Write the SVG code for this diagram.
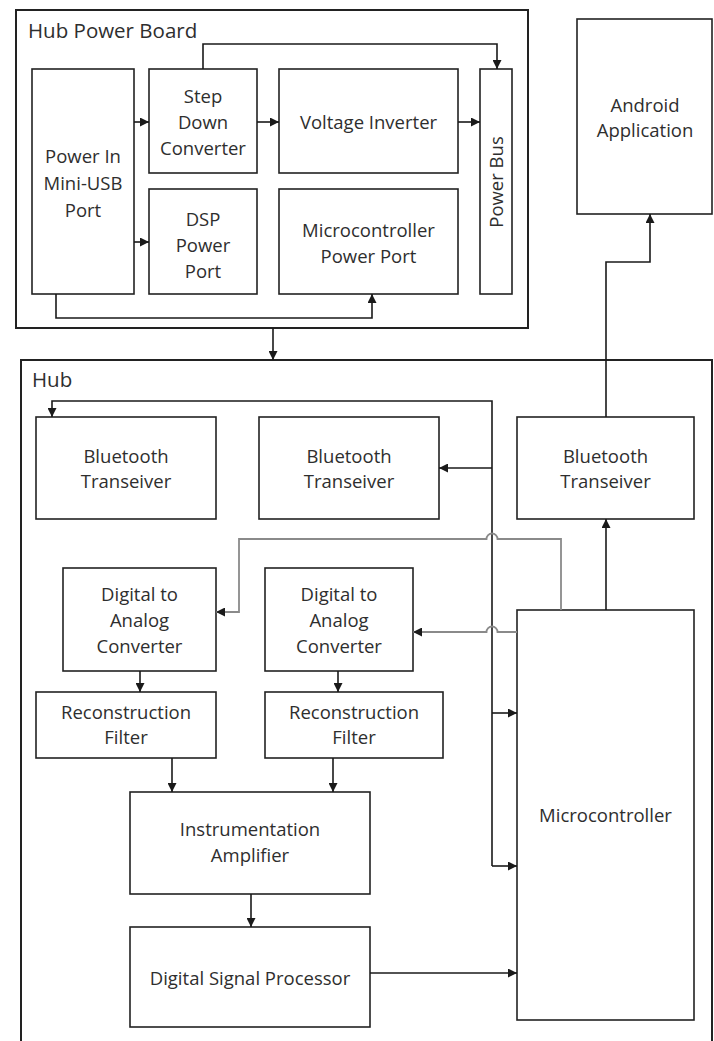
<svg xmlns="http://www.w3.org/2000/svg" width="714" height="1041" viewBox="0 0 714 1041">
<style>
.box{fill:#fff;stroke:#222;stroke-width:1.6}
.frame{fill:none;stroke:#222;stroke-width:2}
.t{font-family:"Open Sans","Liberation Sans",sans-serif;font-size:18.5px;fill:#2e2e2e;text-anchor:middle}
.lbl{font-family:"Open Sans","Liberation Sans",sans-serif;font-size:20.5px;fill:#2e2e2e}
.c{fill:none;stroke:#1a1a1a;stroke-width:1.6}
.g{fill:none;stroke:#8a8a8a;stroke-width:1.8}
</style>
<defs>
<marker id="ah" viewBox="0 0 10 10" refX="10" refY="5" markerWidth="9" markerHeight="9" markerUnits="userSpaceOnUse" orient="auto">
<path d="M0,0 L10,5 L0,10 z" fill="#1a1a1a"/>
</marker>
</defs>
<rect width="714" height="1041" fill="#fff"/>

<g id="hub-power-board">
<rect class="frame" x="16" y="10" width="512" height="318"/>
<text class="lbl" x="28" y="38">Hub Power Board</text>
</g>
<g id="hub">
<path class="frame" d="M21,1041 V360 H712 V1041"/>
<text class="lbl" x="32" y="387">Hub</text>
</g>

<g id="power-in">
<rect class="box" x="32" y="69" width="102" height="225"/>
<text class="t" x="83" y="163">Power In</text>
<text class="t" x="83" y="190">Mini-USB</text>
<text class="t" x="83" y="217">Port</text>
</g>
<g id="step-down">
<rect class="box" x="149" y="69" width="108" height="104"/>
<text class="t" x="203" y="103">Step</text>
<text class="t" x="203" y="129">Down</text>
<text class="t" x="203" y="155">Converter</text>
</g>
<g id="dsp-power">
<rect class="box" x="149" y="189" width="108" height="105"/>
<text class="t" x="203" y="226">DSP</text>
<text class="t" x="203" y="252">Power</text>
<text class="t" x="203" y="278">Port</text>
</g>
<g id="voltage-inverter">
<rect class="box" x="279" y="69" width="179" height="104"/>
<text class="t" x="368.5" y="129">Voltage Inverter</text>
</g>
<g id="mcu-power">
<rect class="box" x="279" y="189" width="179" height="105"/>
<text class="t" x="368.5" y="237">Microcontroller</text>
<text class="t" x="368.5" y="263">Power Port</text>
</g>
<g id="power-bus">
<rect class="box" x="480" y="69" width="32" height="225"/>
<text class="t" x="0" y="0" transform="translate(503,182) rotate(-90)">Power Bus</text>
</g>
<g id="android">
<rect class="box" x="577" y="19" width="135" height="195"/>
<text class="t" x="645" y="112">Android</text>
<text class="t" x="645" y="137">Application</text>
</g>

<g id="bt1">
<rect class="box" x="36" y="417" width="180" height="102"/>
<text class="t" x="126" y="463">Bluetooth</text>
<text class="t" x="126" y="488">Transeiver</text>
</g>
<g id="bt2">
<rect class="box" x="259" y="417" width="180" height="102"/>
<text class="t" x="349" y="463">Bluetooth</text>
<text class="t" x="349" y="488">Transeiver</text>
</g>
<g id="bt3">
<rect class="box" x="517" y="417" width="177" height="102"/>
<text class="t" x="605.5" y="463">Bluetooth</text>
<text class="t" x="605.5" y="488">Transeiver</text>
</g>
<g id="dac1">
<rect class="box" x="63" y="568" width="153" height="103"/>
<text class="t" x="139.5" y="601">Digital to</text>
<text class="t" x="139.5" y="627">Analog</text>
<text class="t" x="139.5" y="653">Converter</text>
</g>
<g id="dac2">
<rect class="box" x="265" y="568" width="148" height="103"/>
<text class="t" x="339" y="601">Digital to</text>
<text class="t" x="339" y="627">Analog</text>
<text class="t" x="339" y="653">Converter</text>
</g>
<g id="rf1">
<rect class="box" x="36" y="692" width="180" height="66"/>
<text class="t" x="126" y="719">Reconstruction</text>
<text class="t" x="126" y="744">Filter</text>
</g>
<g id="rf2">
<rect class="box" x="265" y="692" width="178" height="66"/>
<text class="t" x="354" y="719">Reconstruction</text>
<text class="t" x="354" y="744">Filter</text>
</g>
<g id="inst-amp">
<rect class="box" x="130" y="792" width="240" height="102"/>
<text class="t" x="250" y="836">Instrumentation</text>
<text class="t" x="250" y="862">Amplifier</text>
</g>
<g id="dsp">
<rect class="box" x="130" y="927" width="240" height="100"/>
<text class="t" x="250" y="985">Digital Signal Processor</text>
</g>
<g id="microcontroller">
<rect class="box" x="517" y="610" width="177" height="410"/>
<text class="t" x="605.5" y="822">Microcontroller</text>
</g>

<g id="connectors">
<path class="c" d="M134,122 H149" marker-end="url(#ah)"/>
<path class="c" d="M134,242 H149" marker-end="url(#ah)"/>
<path class="c" d="M257,122 H279" marker-end="url(#ah)"/>
<path class="c" d="M458,122 H480" marker-end="url(#ah)"/>
<path class="c" d="M203,69 V44 H497 V69" marker-end="url(#ah)"/>
<path class="c" d="M56,294 V318 H372 V294" marker-end="url(#ah)"/>
<path class="c" d="M273,328 V360" marker-end="url(#ah)"/>
<path class="c" d="M606,417 V262 H650 V214" marker-end="url(#ah)"/>
<path class="c" d="M492,866 V401 H52 V417" marker-end="url(#ah)"/>
<path class="c" d="M492,468 H439" marker-end="url(#ah)"/>
<path class="c" d="M492,713 H517" marker-end="url(#ah)"/>
<path class="c" d="M492,866 H517" marker-end="url(#ah)"/>
<path class="g" d="M561,610 V539 H497.5 A5.5,5.5 0 0 0 486.5,539 H239 V612 H216" marker-end="url(#ah)"/>
<path class="g" d="M517,632 H497.5 A5.5,5.5 0 0 0 486.5,632 H413" marker-end="url(#ah)"/>
<path class="c" d="M606,610 V519" marker-end="url(#ah)"/>
<path class="c" d="M140,671 V692" marker-end="url(#ah)"/>
<path class="c" d="M338,671 V692" marker-end="url(#ah)"/>
<path class="c" d="M172,758 V792" marker-end="url(#ah)"/>
<path class="c" d="M333,758 V792" marker-end="url(#ah)"/>
<path class="c" d="M251,894 V927" marker-end="url(#ah)"/>
<path class="c" d="M370,973 H517" marker-end="url(#ah)"/>
</g>
</svg>
